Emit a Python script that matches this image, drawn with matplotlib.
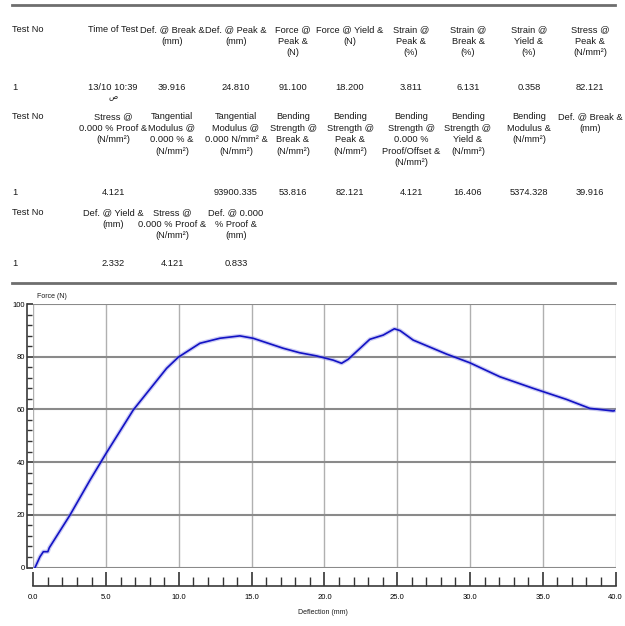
import matplotlib
matplotlib.use("Agg")
import matplotlib.pyplot as plt
from matplotlib.lines import Line2D
from matplotlib.ticker import MultipleLocator, FormatStrFormatter
from matplotlib import font_manager

# --- report table ---
row1_headers = ["Test No", "Time of Test", "Def. @ Break &\n(mm)", "Def. @ Peak &\n(mm)",
                "Force @\nPeak &\n(N)", "Force @ Yield &\n(N)", "Strain @\nPeak &\n(%)",
                "Strain @\nBreak &\n(%)", "Strain @\nYield &\n(%)", "Stress @\nPeak &\n(N/mm²)"]
row1_values = ["1", "13/10 10:39", "39.916", "24.810", "91.100", "18.200",
               "3.811", "6.131", "0.358", "82.121"]
time_suffix = "ص"

row2_headers = ["Test No", "Stress @\n0.000 % Proof &\n(N/mm²)",
                "Tangential\nModulus @\n0.000 % &\n(N/mm²)",
                "Tangential\nModulus @\n0.000 N/mm² &\n(N/mm²)",
                "Bending\nStrength @\nBreak &\n(N/mm²)",
                "Bending\nStrength @\nPeak &\n(N/mm²)",
                "Bending\nStrength @\n0.000 %\nProof/Offset &\n(N/mm²)",
                "Bending\nStrength @\nYield &\n(N/mm²)",
                "Bending\nModulus &\n(N/mm²)", "Def. @ Break &\n(mm)"]
row2_values = ["1", "4.121", "", "93900.335", "53.816", "82.121",
               "4.121", "16.406", "5374.328", "39.916"]

row3_headers = ["Test No", "Def. @ Yield &\n(mm)", "Stress @\n0.000 % Proof &\n(N/mm²)",
                "Def. @ 0.000\n% Proof &\n(mm)"]
row3_values = ["1", "2.332", "4.121", "0.833"]

# --- force / deflection curve ---
deflection = [0.12, 0.46, 0.69, 1.0, 1.1, 2.52, 3.9, 5.0, 6.87, 9.16, 9.96, 11.45,
              12.82, 14.19, 15.1, 17.17, 18.3, 19.46, 20.6, 21.18, 21.63, 23.12,
              24.04, 24.81, 25.2, 26.1, 28.39, 29.99, 32.05, 34.34, 36.63, 38.23,
              39.83, 39.916]
force = [0.0, 4.1, 6.0, 6.0, 7.5, 19.9, 33.2, 43.3, 59.8, 75.6, 79.8, 85.1,
         87.0, 87.9, 87.0, 83.2, 81.5, 80.3, 78.7, 77.5, 79.0, 86.6,
         88.2, 90.6, 89.9, 86.3, 81.0, 77.7, 72.4, 68.0, 63.8, 60.4,
         59.4, 59.5]

W, H = 625, 626
names = {f.name for f in font_manager.fontManager.ttflist}
base = "Liberation Sans Narrow" if "Liberation Sans Narrow" in names else "Liberation Sans"
FAM = [base, "DejaVu Sans"]


def put(x, y, s, ha="center", va="top", size=6.7, **kw):
    fig.text(x / W, 1 - y / H, s, ha=ha, va=va, fontsize=size, family=FAM,
             multialignment="center", linespacing=1.36, color="#1a1a1a", **kw)


fig = plt.figure(figsize=(W / 100, H / 100), dpi=100)

col_x = [12, 113, 172, 236, 293, 350, 411, 468, 529, 590]

for rows, head_y, val_y in [((row1_headers, row1_values), 25, 83),
                            ((row2_headers, row2_values), 112, 188),
                            ((row3_headers, row3_values), 208, 259)]:
    heads, vals = rows
    for i, (h, v) in enumerate(zip(heads, vals)):
        ha = "left" if i == 0 else "center"
        put(col_x[i], head_y, h, ha=ha)
        if v:
            put(col_x[i], val_y, v, ha=ha)
put(col_x[1], 94, time_suffix, size=5.5)

for yy in (5, 283):
    fig.add_artist(Line2D([12 / W, 615 / W], [1 - yy / H, 1 - yy / H],
                          color="#6e6e6e", lw=2))

# --- chart ---
ax = fig.add_axes([33.3 / W, 1 - 567.5 / H, (615.5 - 33.3) / W, (567.5 - 304) / H])
ax.plot(deflection, force, color="#8c8ce8", lw=3.0, alpha=0.45, solid_capstyle="round")
ax.plot(deflection, force, color="#1212c4", lw=1.2)

ax.set_xlim(0, 40)
ax.set_ylim(0, 100)
ax.xaxis.set_major_locator(MultipleLocator(5))
ax.xaxis.set_minor_locator(MultipleLocator(1))
ax.yaxis.set_major_locator(MultipleLocator(20))
ax.yaxis.set_minor_locator(MultipleLocator(4))
ax.xaxis.set_major_formatter(FormatStrFormatter("%.1f"))

for s in ("top", "right"):
    ax.spines[s].set_visible(False)
ax.spines["left"].set_position(("outward", 4.3))
ax.spines["bottom"].set_position(("outward", 13.3))
for s in ("left", "bottom"):
    ax.spines[s].set_color("#3a3a3a")
    ax.spines[s].set_linewidth(1.2)

ax.tick_params(axis="x", which="major", direction="in", length=10, width=1.1,
               color="#222222", labelsize=5.5, pad=6)
ax.tick_params(axis="x", which="minor", direction="in", length=6.5, width=1.0,
               color="#333333")
ax.tick_params(axis="y", which="major", direction="in", length=4.5, width=1.1,
               color="#222222", labelsize=5.5, pad=1.5)
ax.tick_params(axis="y", which="minor", direction="in", length=3.5, width=1.0,
               color="#333333")
for lab in ax.get_xticklabels() + ax.get_yticklabels():
    lab.set_family(FAM)

ax.grid(True, axis="y", color="#8a8a8a", lw=1.5)
ax.grid(True, axis="x", color="#b0b0b0", lw=1.0)
ax.set_axisbelow(True)

put(37, 297, "Force (N)", ha="left", va="center", size=5)
put(323, 613, "Deflection (mm)", va="center", size=5)

fig.savefig("out.png", dpi=100)
